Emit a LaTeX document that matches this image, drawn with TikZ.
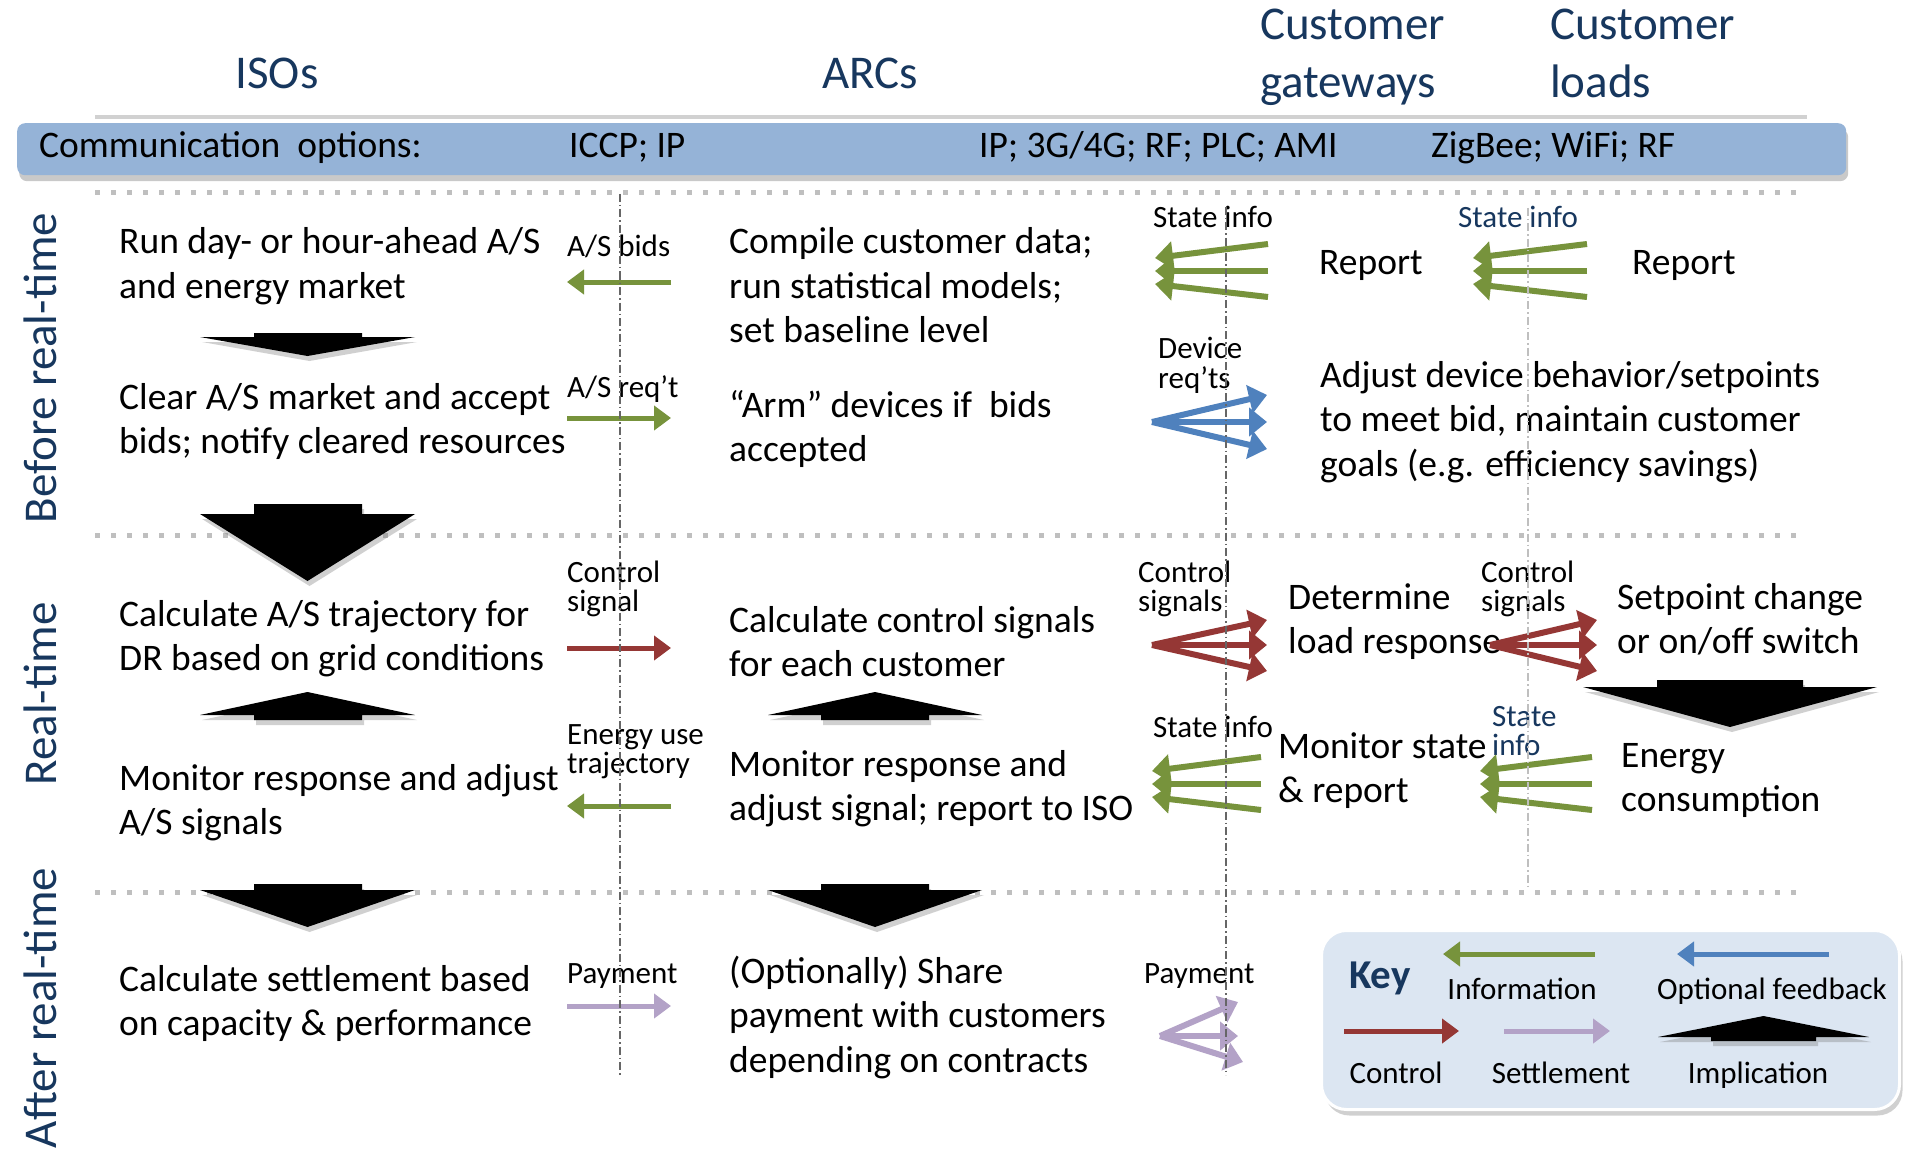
\documentclass[tikz,border=0pt]{standalone}
\usepackage{fontspec}
\setmainfont{Carlito}
\usetikzlibrary{arrows.meta,shadows}
\definecolor{navy}{HTML}{17375E}
\definecolor{barblue}{HTML}{95B3D7}
\definecolor{infogreen}{HTML}{77933C}
\definecolor{ctrlred}{HTML}{953735}
\definecolor{optblue}{HTML}{4F81BD}
\definecolor{settle}{HTML}{B3A2C7}
\definecolor{keyfill}{HTML}{DCE6F2}
\newcommand\ML[1]{\begin{tabular}[t]{@{}l@{}}#1\end{tabular}}
\newcommand\DownBlk[7]{\path[blk] (#1,#6) -- (#3,#6) -- (#3,#5) -- (#4,#5) -- (#4,#6) -- (#2,#6) -- ({(#1+#2)/2},#7) -- cycle;}
\newcommand\UpBlk[7]{\path[blk] ({(#1+#2)/2},#5) -- (#2,#6) -- (#4,#6) -- (#4,#7) -- (#3,#7) -- (#3,#6) -- (#1,#6) -- cycle;}
\begin{document}
\begin{tikzpicture}[x=1pt,y=-1pt,
  body/.style={font=\fontsize{37.5}{44.5}\selectfont, inner sep=0pt, anchor=base west},
  lab/.style={font=\fontsize{31}{28}\selectfont, inner sep=0pt, anchor=base west},
  hdr/.style={font=\fontsize{47}{58}\selectfont, text=navy, inner sep=0pt},
  keylab/.style={font=\fontsize{31}{36}\selectfont, inner sep=0pt, anchor=base},
  flow/.style={line width=5pt, -{Triangle[length=17pt,width=24pt]}},
  fan/.style={line width=6pt, -{Triangle[length=18pt,width=28pt]}},
  blk/.style={fill=black, drop shadow={shadow xshift=2pt, shadow yshift=-5pt, opacity=0.3, fill=black!60}},
  dotline/.style={line width=5pt, black!25, dash pattern=on 5pt off 11pt},
  vline/.style={line width=1.4pt, black!60, dash pattern=on 8pt off 3pt on 1.5pt off 3pt},
]
\useasboundingbox[fill=white] (0,0) rectangle (1905,1150);

% header line and communication bar
\draw[line width=4pt, black!18] (95,117) -- (1807,117);
\node[fill=barblue, rounded corners=8pt, minimum width=1829pt, minimum height=52pt, inner sep=0pt, anchor=north west,
      drop shadow={shadow xshift=2pt, shadow yshift=-6pt, opacity=0.35, fill=black!60}] (bar) at (17,123) {};
\node[body] (cm0) at (39,158) {Communication\ \ options:};
\node[body] (cm1) at (569,158) {ICCP; IP};
\node[body] (cm2) at (979,158) {IP; 3G/4G; RF; PLC; AMI};
\node[body] (cm3) at (1431,158) {ZigBee; WiFi; RF};

% headers
\node[hdr, anchor=base] (hiso) at (277,89) {ISOs};
\node[hdr, anchor=base] (harc) at (870,89) {ARCs};
\node[hdr, anchor=base west] (hgw) at (1260,40) {\ML{Customer\\gateways}};
\node[hdr, anchor=base west] (hld) at (1550,40) {\ML{Customer\\loads}};

% phase labels
\node[hdr, rotate=90] (pbefore) at (40,368) {Before real-time};
\node[hdr, rotate=90] (preal) at (40,694) {Real-time};
\node[hdr, rotate=90] (pafter) at (40,1008) {After real-time};

% dotted separators
\draw[dotline] (95,193) -- (1798,193);
\draw[dotline] (95,535) -- (1798,535);
\draw[dotline] (95,892) -- (1798,892);

% ISO column
\node[body] (iso1) at (119,254) {\ML{Run day- or hour-ahead A/S\\and energy market}};
\node[body] (iso2) at (119,409) {\ML{Clear A/S market and accept\\bids; notify cleared resources}};
\node[body] (iso3) at (119,626) {\ML{Calculate A/S trajectory for\\DR based on grid conditions}};
\node[body] (iso4) at (119,790) {\ML{Monitor response and adjust\\A/S signals}};
\node[body] (iso5) at (119,991) {\ML{Calculate settlement based\\on capacity \& performance}};

% ARC column
\node[body] (arc1) at (729,254) {\ML{Compile customer data;\\run statistical models;\\set baseline level}};
\node[body] (arc2) at (729,417) {\ML{“Arm” devices if\ \ bids\\accepted}};
\node[body] (arc3) at (729,632) {\ML{Calculate control signals\\for each customer}};
\node[body] (arc4) at (729,776) {\ML{Monitor response and\\adjust signal; report to ISO}};
\node[body] (arc5) at (729,983) {\ML{(Optionally) Share\\payment with customers\\depending on contracts}};

% customer side
\node[body] (rep1) at (1319,274) {Report};
\node[body] (rep2) at (1632,274) {Report};
\node[body] (adj) at (1320,387) {\ML{Adjust device behavior/setpoints\\to meet bid, maintain customer\\goals (e.g. efficiency savings)}};
\node[body] (det) at (1288,609) {\ML{Determine\\load response}};
\node[body] (setp) at (1617,609) {\ML{Setpoint change\\or on/off switch}};
\node[body] (mon) at (1278,758) {\ML{Monitor state\\\& report}};
\node[body] (ene) at (1621,767) {\ML{Energy\\consumption}};

% small labels
\node[lab] (lbids) at (567,257) {A/S bids};
\node[lab] (lreq) at (567,397) {A/S req’t};
\node[lab] (lctrl) at (567,582) {\ML{Control\\signal}};
\node[lab] (ltraj) at (567,744) {\ML{Energy use\\trajectory}};
\node[lab] (lpay) at (567,983) {Payment};
\node[lab] (ls1) at (1153,228) {State info};
\node[lab, text=navy] (ls2) at (1458,228) {State info};
\node[lab] (ldev) at (1158,358) {\ML{Device\\req’ts}};
\node[lab] (lc1) at (1138,582) {\ML{Control\\signals}};
\node[lab] (lc2) at (1481,582) {\ML{Control\\signals}};
\node[lab] (ls3) at (1153,737) {State info};
\node[lab, text=navy] (ls4) at (1492,726) {\ML{State\\info}};
\node[lab] (lpay2) at (1144,983) {Payment};

% implication block arrows
\DownBlk{200}{415}{254}{362}{333}{337}{356}
\DownBlk{200}{415}{254}{362}{504}{514}{581}
\UpBlk{200}{415}{254}{362}{692}{715}{720}
\DownBlk{200}{415}{254}{362}{884}{890}{927}
\UpBlk{768}{982}{821}{929}{692}{715}{720}
\DownBlk{768}{982}{821}{929}{884}{890}{927}
\DownBlk{1583}{1877}{1657}{1803}{680}{687}{727}

% ISO <-> ARC flows
\draw[flow, infogreen] (671,282) coordinate (bidsR) -- (567,282) coordinate (bidsL);
\draw[flow, infogreen] (567,418) coordinate (reqL) -- (671,418) coordinate (reqR);
\draw[flow, ctrlred] (567,648) coordinate (ctlL) -- (671,648) coordinate (ctlR);
\draw[flow, infogreen] (671,806) coordinate (trjR) -- (567,806) coordinate (trjL);
\draw[flow, settle] (567,1006) coordinate (payL) -- (671,1006) coordinate (payR);

% fans: state info (green)
\foreach \tx/\hx/\cy/\nm in {1268/1155/271/ga, 1587/1473/271/gb, 1261/1152/784/gc, 1592/1480/784/gd}{
  \coordinate (\nm t1) at (\tx,\cy-27); \coordinate (\nm t2) at (\tx,\cy); \coordinate (\nm t3) at (\tx,\cy+26);
  \coordinate (\nm h1) at (\hx,\cy-13); \coordinate (\nm h2) at (\hx,\cy); \coordinate (\nm h3) at (\hx,\cy+13);
  \draw[fan, infogreen] (\nm t1) -- (\nm h1);
  \draw[fan, infogreen] (\nm t2) -- (\nm h2);
  \draw[fan, infogreen] (\nm t3) -- (\nm h3);
}
% fan: device requirements (blue)
\coordinate (bo) at (1152,422);
\coordinate (bh1) at (1267,395); \coordinate (bh2) at (1267,422); \coordinate (bh3) at (1267,449);
\draw[fan, optblue] (bo) -- (bh1);
\draw[fan, optblue] (bo) -- (bh2);
\draw[fan, optblue] (bo) -- (bh3);
% fans: control signals (red)
\coordinate (ro1) at (1152,645);
\coordinate (r1h1) at (1267,620); \coordinate (r1h2) at (1267,645); \coordinate (r1h3) at (1267,671);
\draw[fan, ctrlred] (ro1) -- (r1h1);
\draw[fan, ctrlred] (ro1) -- (r1h2);
\draw[fan, ctrlred] (ro1) -- (r1h3);
\coordinate (ro2) at (1490,645);
\coordinate (r2h1) at (1597,620); \coordinate (r2h2) at (1597,645); \coordinate (r2h3) at (1597,671);
\draw[fan, ctrlred] (ro2) -- (r2h1);
\draw[fan, ctrlred] (ro2) -- (r2h2);
\draw[fan, ctrlred] (ro2) -- (r2h3);
% fan: payment (lavender)
\coordinate (po) at (1160,1036);
\coordinate (ph1) at (1238,1002); \coordinate (ph2) at (1238,1036); \coordinate (ph3) at (1243,1062);
\draw[fan, settle] (po) -- (ph1);
\draw[fan, settle] (po) -- (ph2);
\draw[fan, settle] (po) -- (ph3);

% vertical dash-dot lines
\draw[vline] (620,194) coordinate (v1t) -- (620,1075) coordinate (v1b);
\draw[vline] (1226,207) coordinate (v2t) -- (1226,1075) coordinate (v2b);
\draw[vline, black!25] (1528,208) coordinate (v3t) -- (1528,887) coordinate (v3b);

% key
\node[fill=keyfill, draw=white, line width=3pt, rounded corners=25pt, minimum width=578pt, minimum height=179pt,
      inner sep=0pt, anchor=north west,
      drop shadow={shadow xshift=3pt, shadow yshift=-6pt, opacity=0.3, fill=black!60}] (keybox) at (1320,929) {};
\node[font=\bfseries\fontsize{41}{48}\selectfont, text=navy, inner sep=0pt, anchor=base west] (keyt) at (1349,988) {Key};
\draw[flow, infogreen] (1595,954) coordinate (kgR) -- (1443,954) coordinate (kgL);
\draw[flow, optblue] (1829,954) coordinate (kbR) -- (1677,954) coordinate (kbL);
\draw[flow, ctrlred] (1344,1031) coordinate (krL) -- (1459,1031) coordinate (krR);
\draw[flow, settle] (1504,1031) coordinate (ksL) -- (1610,1031) coordinate (ksR);
\UpBlk{1658}{1869}{1711}{1816}{1016}{1037}{1041}
\node[keylab] (kinfo) at (1522,999) {Information};
\node[keylab] (kopt) at (1772,999) {Optional feedback};
\node[keylab] (kctrl) at (1396,1083) {Control};
\node[keylab] (kset) at (1561,1083) {Settlement};
\node[keylab] (kimp) at (1758,1083) {Implication};
\end{tikzpicture}
\end{document}
